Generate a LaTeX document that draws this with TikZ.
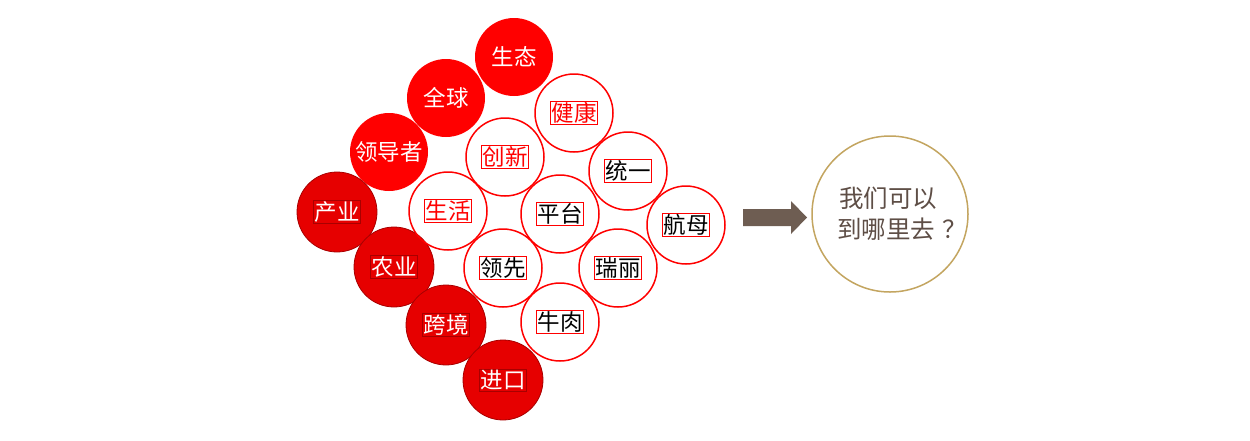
\documentclass[tikz,border=0pt]{standalone}
\usepackage{fontspec}
\newfontfamily\cjk{Noto Sans CJK SC}
\definecolor{brightred}{HTML}{FF0000}
\definecolor{deepred}{HTML}{E60000}
\definecolor{edgered}{HTML}{A80000}
\definecolor{arrowbrown}{HTML}{6E5D52}
\definecolor{goldring}{HTML}{C3A560}
\definecolor{qtext}{HTML}{5E4E46}
\tikzset{
  solidbub/.style={circle, fill=brightred, minimum size=78pt, inner sep=0pt},
  darkbub/.style={circle, fill=deepred, draw=edgered, line width=0.8pt, minimum size=80pt, inner sep=0pt},
  ringbub/.style={circle, draw=brightred, line width=1.5pt, minimum size=78pt, inner sep=0pt},
  wtext/.style={text=white, font=\cjk\fontsize{22.5}{26}\selectfont, inner sep=1pt},
  wbox/.style={wtext, draw=edgered, line width=0.6pt},
  rbox/.style={text=brightred, font=\cjk\fontsize{22.5}{26}\selectfont, draw=brightred, line width=0.8pt, inner sep=1pt},
  kbox/.style={text=black, font=\cjk\fontsize{22.5}{26}\selectfont, draw=brightred, line width=0.8pt, inner sep=1pt},
}
\begin{document}
\begin{tikzpicture}[x=1pt,y=-1pt]
\useasboundingbox (0,0) rectangle (1250,440);
% solid top circles
\node[solidbub] (c1) at (514,57) {};
\node[wtext] (t1) at (c1) {生态};
\node[solidbub] (c2) at (446,98) {};
\node[wtext] (t2) at (c2) {全球};
\node[solidbub] (c3) at (389,152) {};
\node[wtext] (t3) at (c3) {领导者};
% darker circles
\node[darkbub] (c4) at (337,212) {};
\node[wbox] (t4) at (c4) {产业};
\node[darkbub] (c5) at (394,267) {};
\node[wbox] (t5) at (c5) {农业};
\node[darkbub] (c6) at (446,325) {};
\node[wbox] (t6) at (c6) {跨境};
\node[darkbub] (c7) at (503,380) {};
\node[wbox] (t7) at (c7) {进口};
% ring circles
\node[ringbub] (r1) at (574,113) {};
\node[rbox] (u1) at (r1) {健康};
\node[ringbub] (r2) at (505,157) {};
\node[rbox] (u2) at (r2) {创新};
\node[ringbub] (r3) at (628,171) {};
\node[kbox] (u3) at (r3) {统一};
\node[ringbub] (r4) at (448,211) {};
\node[rbox] (u4) at (r4) {生活};
\node[ringbub] (r5) at (560,214) {};
\node[kbox] (u5) at (r5) {平台};
\node[ringbub] (r6) at (686,225) {};
\node[kbox] (u6) at (r6) {航母};
\node[ringbub] (r7) at (503,268) {};
\node[kbox] (u7) at (r7) {领先};
\node[ringbub] (r8) at (618,268) {};
\node[kbox] (u8) at (r8) {瑞丽};
\node[ringbub] (r9) at (560,322) {};
\node[kbox] (u9) at (r9) {牛肉};
% arrow
\coordinate (arr) at (743,217.5);
\fill[arrowbrown] (arr) ++(0,-8.5) -- ++(48,0) -- ++(0,-8) -- ++(16,16.5) -- ++(-16,16.5) -- ++(0,-8) -- ++(-48,0) -- cycle;
% question circle
\node[circle, draw=goldring, line width=1.5pt, minimum size=156pt, inner sep=0pt] (q) at (890,214) {};
\node[text=qtext, font=\cjk\fontsize{24.5}{31}\selectfont, align=left, anchor=west, inner sep=0pt] (qt) at ([xshift=-53pt]q.center) {\hspace{2pt}我们可以\\到哪里去\hspace{0.3em}？};
\end{tikzpicture}
\end{document}
